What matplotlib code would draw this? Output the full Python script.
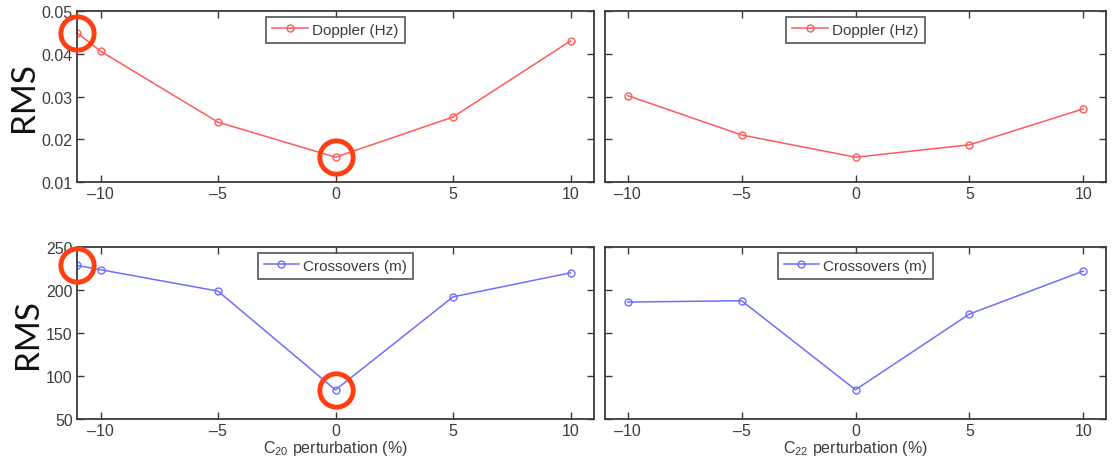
import matplotlib
matplotlib.use("Agg")
import matplotlib.pyplot as plt

plt.rcParams['font.family'] = ['Liberation Sans', 'DejaVu Sans']
plt.rcParams['mathtext.fontset'] = 'custom'
plt.rcParams['mathtext.rm'] = 'Liberation Sans'
plt.rcParams['mathtext.it'] = 'Liberation Sans:italic'

# ---- data ----
x_c20_dop = [-11, -10, -5, 0, 5, 10]
dop_c20 = [0.0449, 0.0406, 0.0240, 0.0158, 0.0252, 0.0430]
x_c22 = [-10, -5, 0, 5, 10]
dop_c22 = [0.0302, 0.0210, 0.0158, 0.0187, 0.0271]
x_c20_cross = [-11, -10, -5, 0, 5, 10]
cross_c20 = [228.6, 223.6, 198.7, 83.8, 192.0, 220.0]
cross_c22 = [186.0, 187.5, 84.0, 172.0, 222.0]
xticks = [-10, -5, 0, 5, 10]
xticklabels = ["\u201310", "\u20135", "0", "5", "10"]
dop_yticks = [0.01, 0.02, 0.03, 0.04, 0.05]
dop_yticklabels = ["0.01", "0.02", "0.03", "0.04", "0.05"]
cross_yticks = [50, 100, 150, 200, 250]
highlight_c20_dop = [(-11, 0.0449), (0, 0.0158)]
highlight_c20_cross = [(-11, 228.6), (0, 83.8)]

RED = "#ff5a5a"
BLUE = "#6e6eff"
ORANGE = "#ff3f12"
SPINE = "#3a3a3a"
TXT = "#3c3c3c"

fig = plt.figure(figsize=(11.19, 4.64), dpi=100)
W, H = 1119, 464

def add_ax(l, t, r, b):
    return fig.add_axes([l / W, 1 - b / H, (r - l) / W, (b - t) / H])

ax_tl = add_ax(77, 12, 594, 183)
ax_tr = add_ax(605, 12, 1106, 183)
ax_bl = add_ax(77, 248, 594, 420)
ax_br = add_ax(605, 248, 1106, 420)

def style(ax, yticks, ylim, show_ylabels, yticklabels=None):
    ax.set_xlim(-11, 11)
    ax.set_ylim(*ylim)
    ax.set_xticks(xticks)
    ax.set_xticklabels(xticklabels)
    ax.set_yticks(yticks)
    if show_ylabels:
        if yticklabels is not None:
            ax.set_yticklabels(yticklabels)
    else:
        ax.set_yticklabels([])
    ax.tick_params(direction="in", top=True, right=True, length=5, width=1,
                   color=SPINE, labelsize=11.5, labelcolor=TXT, pad=3)
    for s in ax.spines.values():
        s.set_color(SPINE)
        s.set_linewidth(1.3)

def rms_label(ax):
    ax.set_ylabel("RMS", fontsize=24, color="#111111", labelpad=2,
                  family=["Lato", "DejaVu Sans"])

# top-left
ax_tl.plot(x_c20_dop, dop_c20, color=RED, lw=1.1, marker="o", ms=5,
           mfc="none", mec=RED, mew=1.0, label="Doppler (Hz)")
style(ax_tl, dop_yticks, (0.01, 0.05), True, dop_yticklabels)
rms_label(ax_tl)

# top-right
ax_tr.plot(x_c22, dop_c22, color=RED, lw=1.1, marker="o", ms=5,
           mfc="none", mec=RED, mew=1.0, label="Doppler (Hz)")
style(ax_tr, dop_yticks, (0.01, 0.05), False)

# bottom-left
ax_bl.plot(x_c20_cross, cross_c20, color=BLUE, lw=1.1, marker="o", ms=5,
           mfc="none", mec=BLUE, mew=1.0, label="Crossovers (m)")
style(ax_bl, cross_yticks, (50, 250), True)
rms_label(ax_bl)
ax_bl.set_xlabel("C$_{20}$ perturbation (%)", fontsize=11.5, color=TXT, labelpad=0)

# bottom-right
ax_br.plot(x_c22, cross_c22, color=BLUE, lw=1.1, marker="o", ms=5,
           mfc="none", mec=BLUE, mew=1.0, label="Crossovers (m)")
style(ax_br, cross_yticks, (50, 250), False)
ax_br.set_xlabel("C$_{22}$ perturbation (%)", fontsize=11.5, color=TXT, labelpad=0)

for ax in (ax_tl, ax_tr, ax_bl, ax_br):
    leg = ax.legend(loc="upper center", bbox_to_anchor=(0.5, 0.985), fontsize=11,
                    frameon=True, fancybox=False, handlelength=2.3,
                    borderpad=0.4, handletextpad=0.3, borderaxespad=0.2)
    leg.get_frame().set_edgecolor(SPINE)
    leg.get_frame().set_linewidth(1.3)
    for t in leg.get_texts():
        t.set_color(TXT)

# orange highlight circles (drawn as markers so they stay circular)
for ax, pts in ((ax_tl, highlight_c20_dop), (ax_bl, highlight_c20_cross)):
    xs = [p[0] for p in pts]
    ys = [p[1] for p in pts]
    ax.plot(xs, ys, linestyle="none", marker="o", ms=24, mfc="none",
            mec=ORANGE, mew=3.5, clip_on=False, zorder=5)

fig.savefig("out.png", dpi=100)
